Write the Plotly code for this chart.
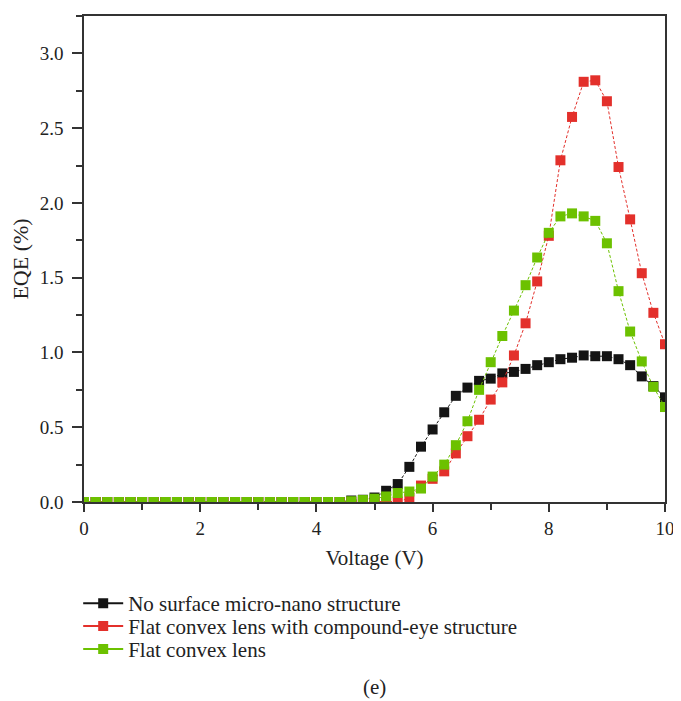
import plotly.graph_objects as go

voltage = [0.0, 0.2, 0.4, 0.6, 0.8, 1.0, 1.2, 1.4, 1.6, 1.8,
           2.0, 2.2, 2.4, 2.6, 2.8, 3.0, 3.2, 3.4, 3.6, 3.8,
           4.0, 4.2, 4.4, 4.6, 4.8, 5.0, 5.2, 5.4, 5.6, 5.8,
           6.0, 6.2, 6.4, 6.6, 6.8, 7.0, 7.2, 7.4, 7.6, 7.8,
           8.0, 8.2, 8.4, 8.6, 8.8, 9.0, 9.2, 9.4, 9.6, 9.8, 10.0]

eqe_no_structure = [0, 0, 0, 0, 0, 0, 0, 0, 0, 0,
                    0, 0, 0, 0, 0, 0, 0, 0, 0, 0,
                    0, 0, 0, 0.01, 0.015, 0.03, 0.075, 0.12, 0.235, 0.37,
                    0.485, 0.60, 0.71, 0.765, 0.81, 0.825, 0.86, 0.87, 0.89, 0.915,
                    0.935, 0.955, 0.965, 0.98, 0.975, 0.975, 0.955, 0.915, 0.84, 0.775, 0.70]

eqe_compound_eye = [0, 0, 0, 0, 0, 0, 0, 0, 0, 0,
                    0, 0, 0, 0, 0, 0, 0, 0, 0, 0,
                    0, 0, 0, 0, 0, 0, 0, 0.003, 0.025, 0.11,
                    0.155, 0.205, 0.325, 0.44, 0.55, 0.685, 0.80, 0.98, 1.195, 1.475,
                    1.78, 2.285, 2.575, 2.81, 2.82, 2.68, 2.24, 1.89, 1.53, 1.265, 1.055]

eqe_convex_lens = [0, 0, 0, 0, 0, 0, 0, 0, 0, 0,
                   0, 0, 0, 0, 0, 0, 0, 0, 0, 0,
                   0, 0, 0, 0.005, 0.013, 0.022, 0.037, 0.06, 0.07, 0.09,
                   0.17, 0.25, 0.38, 0.54, 0.75, 0.935, 1.11, 1.28, 1.45, 1.635,
                   1.80, 1.91, 1.93, 1.91, 1.88, 1.73, 1.41, 1.14, 0.94, 0.77, 0.635]

series_names = ["No surface micro-nano structure",
                "Flat convex lens with compound-eye structure",
                "Flat convex lens"]
series_values = [eqe_no_structure, eqe_compound_eye, eqe_convex_lens]
series_colors = ["#141414", "#e3302b", "#6cc100"]
legend_ids = ["legend", "legend2", "legend3"]
legend_rows = [-0.209, -0.256, -0.303]   # paper-y of each legend row

FONT = "Liberation Serif"
TXT = "#222222"

fig = go.Figure()
for name, vals, col in zip(series_names, series_values, series_colors):
    fig.add_trace(go.Scatter(
        x=voltage, y=vals, mode="lines+markers", name=name,
        showlegend=False,
        line=dict(color=col, width=1, dash="3px,2px"),
        marker=dict(symbol="square", size=10, color=col, line=dict(width=0)),
        cliponaxis=True,
    ))
# legend entries (solid line + square), no data drawn
for name, col, lid in zip(series_names, series_colors, legend_ids):
    fig.add_trace(go.Scatter(
        x=[None], y=[None], mode="lines+markers", name=name, legend=lid,
        line=dict(color=col, width=2),
        marker=dict(symbol="square", size=10, color=col),
    ))

axis_common = dict(
    showline=True, linecolor="#333333", linewidth=1.5, mirror=True,
    showgrid=False, zeroline=False, ticks="outside", tickwidth=1.5,
    tickcolor="#333333",
    tickfont=dict(family=FONT, size=19, color=TXT),
)

fig.update_xaxes(
    range=[0, 10], dtick=2, tick0=0, ticklen=8,
    minor=dict(dtick=1, ticks="outside", ticklen=6, tickwidth=1.5, tickcolor="#333333"),
    title=dict(text="Voltage (V)", font=dict(family=FONT, size=21, color=TXT), standoff=13),
    **axis_common,
)
fig.update_yaxes(
    range=[0, 3.25], dtick=0.5, tick0=0, tickformat=".1f", ticklen=10,
    ticklabelstandoff=5,
    minor=dict(dtick=0.25, ticks="outside", ticklen=6, tickwidth=1.5, tickcolor="#333333"),
    title=dict(text="EQE (%)", font=dict(family=FONT, size=22, color=TXT), standoff=8),
    **axis_common,
)

fig.add_annotation(text="(e)", xref="paper", yref="paper", x=0.5, y=-0.381,
                   showarrow=False, font=dict(family=FONT, size=21, color=TXT),
                   xanchor="center", yanchor="middle")

legend_style = dict(xanchor="left", yanchor="middle",
                    font=dict(family=FONT, size=21, color=TXT),
                    bgcolor="rgba(0,0,0,0)", itemwidth=40)

# page body has an 8px default margin: compensate so the plot lands where the reference has it
fig.update_layout(
    width=673, height=693,
    margin=dict(l=76, r=11, t=6, b=199),
    paper_bgcolor="white", plot_bgcolor="white",
    font=dict(family=FONT, color=TXT),
    legend=dict(x=-0.010, y=legend_rows[0], **legend_style),
    legend2=dict(x=-0.010, y=legend_rows[1], **legend_style),
    legend3=dict(x=-0.010, y=legend_rows[2], **legend_style),
)

fig.write_html("out.html")
